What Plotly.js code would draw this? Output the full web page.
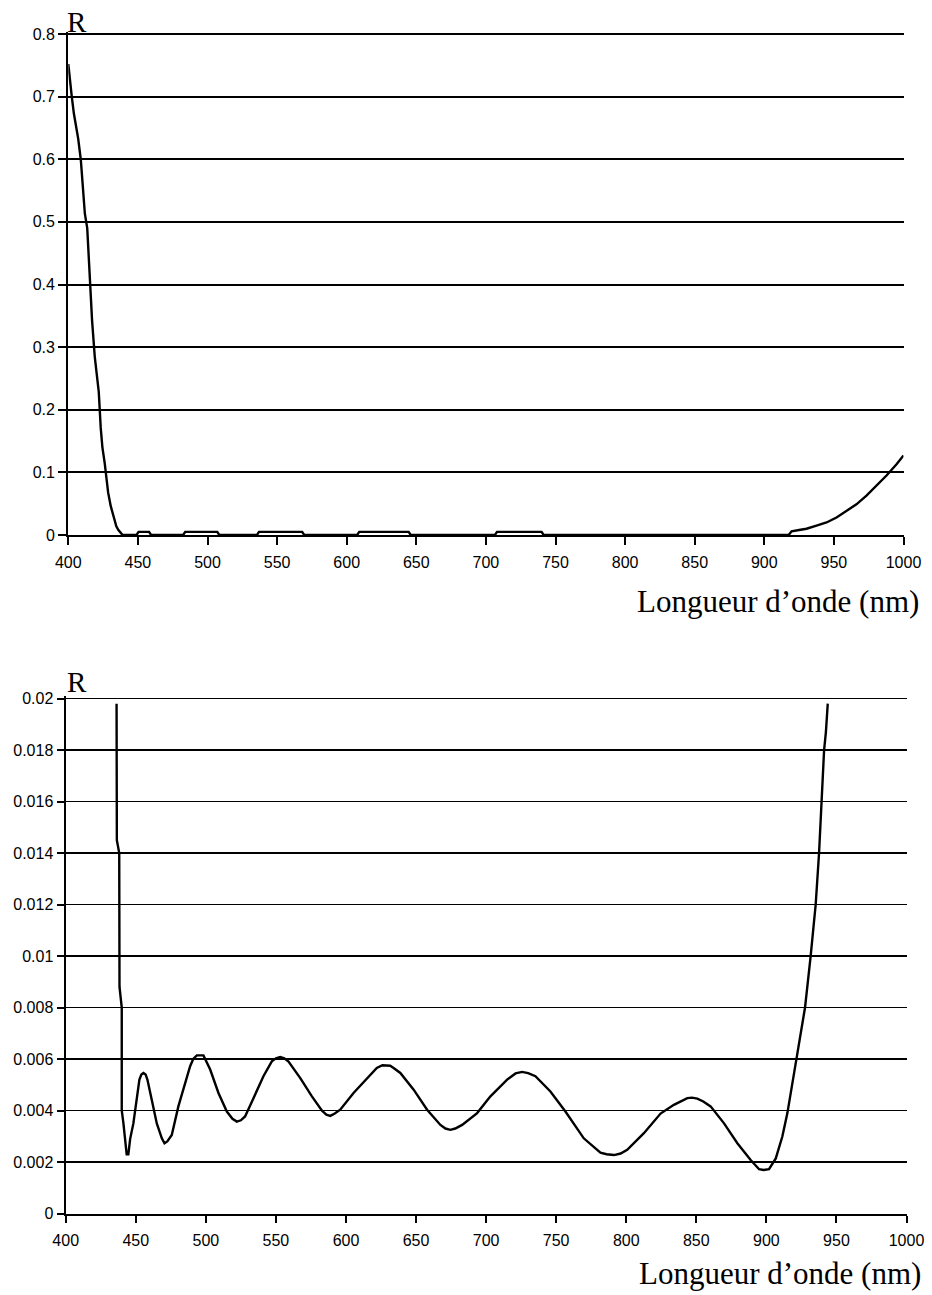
<!DOCTYPE html>
<html>
<head>
<meta charset="utf-8">
<script src="https://cdn.plot.ly/plotly-3.0.1.min.js"></script>
<style>html,body{margin:0;padding:0;background:#fff;}#chart{width:932px;height:1295px;}</style>
</head>
<body>
<div id="chart"></div>
<script>
// ---- Top chart: full range 400–1000 nm, R 0–0.8 ----
var topWavelength = [400, 400.5, 401.7, 402.5, 404, 405, 407.1, 409, 410.2, 411.9, 413.6, 414.3, 416, 417.1, 419, 420.5, 421.9, 423.3, 424.5, 426.2, 427.5, 428.6, 430.5, 432.9, 434.5, 436, 438, 439,
  449, 450.5, 458, 459.5,
  482.5, 484, 507, 508.5,
  535.5, 537, 568, 569.5,
  607.5, 609, 644.5, 646,
  706.5, 708, 740, 741.5,
  917.5, 919.6, 925, 930.3, 937.5, 944.7, 951.9, 959, 966.2, 973.4, 980.6, 987.8, 995, 1000];
var topR = [0.752, 0.74, 0.724, 0.70, 0.673, 0.66, 0.633, 0.599, 0.559, 0.513, 0.49, 0.456, 0.399, 0.342, 0.285, 0.25, 0.228, 0.171, 0.14, 0.114, 0.09, 0.068, 0.046, 0.029, 0.014, 0.008, 0.003, 0,
  0, 0.005, 0.005, 0,
  0, 0.005, 0.005, 0,
  0, 0.005, 0.005, 0,
  0, 0.005, 0.005, 0,
  0, 0.005, 0.005, 0,
  0, 0.006, 0.008, 0.01, 0.015, 0.02, 0.028, 0.039, 0.049, 0.063, 0.079, 0.095, 0.113, 0.127];

// ---- Bottom chart: zoom on R 0–0.02 ----
var botWavelength = [436.3, 436.3, 436.5, 438.2, 438.4, 440, 440, 441.2, 443, 443.5, 444.7, 446, 448.3, 450.7, 452.6, 454, 455.5, 457, 458.3, 461.4, 465, 468.6, 470.5, 472.5, 475.7, 480.4, 485.2, 488.8, 491, 493.6, 498.3, 500.5, 503.1, 509, 515, 519, 522.1, 525, 528, 534, 541.1, 547.1, 550, 553.1, 556, 559, 567.4, 575.7, 582.9, 586, 588.8, 592, 595.9, 605.4, 615, 622, 626, 631.6, 634, 638.8, 648.3, 657.9, 667.4, 671, 674.5, 678, 682.9, 693.6, 703.1, 715, 721, 725.7, 730, 735.2, 745.9, 756.6, 769.7, 781.6, 786, 791.2, 796, 800.7, 812.6, 824.5, 834, 840, 843.6, 847, 850.7, 855, 860.2, 869.8, 879.3, 888.8, 894.8, 898, 901.9, 906.7, 911.4, 915, 917.8, 919.7, 922.5, 925, 927.6, 931.6, 935.2, 937.6, 939.5, 941.2, 942.5, 943.8];
var botR = [0.0198, 0.0154, 0.0145, 0.014, 0.0088, 0.008, 0.004, 0.0035, 0.0025, 0.0023, 0.0023, 0.0029, 0.0035, 0.00455, 0.0052, 0.0054, 0.00546, 0.0054, 0.0052, 0.00442, 0.0035, 0.00292, 0.00273, 0.0028, 0.00305, 0.00416, 0.00507, 0.00572, 0.006, 0.00614, 0.00614, 0.0059, 0.00559, 0.00468, 0.00396, 0.00368, 0.00357, 0.00362, 0.00377, 0.00448, 0.00533, 0.00591, 0.00603, 0.00608, 0.00603, 0.0059, 0.00526, 0.00455, 0.00399, 0.00384, 0.00379, 0.00388, 0.00403, 0.00468, 0.00526, 0.00565, 0.00576, 0.00574, 0.00565, 0.00546, 0.00481, 0.00403, 0.00344, 0.0033, 0.00325, 0.0033, 0.00344, 0.0039, 0.00455, 0.0052, 0.00544, 0.0055, 0.00545, 0.00533, 0.00474, 0.00396, 0.00292, 0.00236, 0.0023, 0.00227, 0.00233, 0.00247, 0.00312, 0.00388, 0.00422, 0.0044, 0.00448, 0.0045, 0.00446, 0.00435, 0.00416, 0.0035, 0.00273, 0.00208, 0.00172, 0.00169, 0.00172, 0.00214, 0.00299, 0.0039, 0.00481, 0.0054, 0.0062, 0.007, 0.008, 0.01, 0.012, 0.014, 0.016, 0.018, 0.0187, 0.0198];

var xTitle = "Longueur d\u2019onde (nm)";
var yTitle = "R";

var H = 1295, W = 932;
function px(x){ return x / W; }
function py(y){ return (H - y) / H; }

var tickFont = {family: "Liberation Sans, Arial, sans-serif", size: 16, color: "#000"};
var rFont = {family: "Liberation Serif, Times New Roman, serif", size: 29, color: "#000"};
var xtFont = {family: "Liberation Serif, Times New Roman, serif", size: 31, color: "#000"};

var traces = [
  {x: topWavelength, y: topR, type: "scatter", mode: "lines", xaxis: "x", yaxis: "y",
   line: {color: "#000", width: 2.4}, hoverinfo: "skip"},
  {x: botWavelength, y: botR, type: "scatter", mode: "lines", xaxis: "x2", yaxis: "y2",
   line: {color: "#000", width: 2.4}, hoverinfo: "skip"}
];

var axisCommon = {
  showline: true, linecolor: "#000", linewidth: 2.2,
  ticks: "outside", tickcolor: "#000", tickwidth: 2, ticklen: 8,
  tickfont: tickFont, zeroline: false, fixedrange: true
};

var layout = {
  width: W, height: H,
  margin: {l: 0, r: 0, t: 0, b: 0},
  paper_bgcolor: "#fff", plot_bgcolor: "#fff",
  showlegend: false,
  xaxis: Object.assign({}, axisCommon, {
    domain: [px(68.3), px(903.5)], range: [400, 1000], dtick: 50, tick0: 400,
    showgrid: false, anchor: "y", ticklabelstandoff: 4
  }),
  yaxis: Object.assign({}, axisCommon, {
    domain: [py(535), py(31.8)], range: [0, 0.8035], dtick: 0.1, tick0: 0,
    showgrid: true, gridcolor: "#000", gridwidth: 2, anchor: "x"
  }),
  xaxis2: Object.assign({}, axisCommon, {
    domain: [px(65.7), px(906.5)], range: [400, 1000], dtick: 50, tick0: 400,
    showgrid: false, anchor: "y2", ticklen: 7, ticklabelstandoff: 4
  }),
  yaxis2: Object.assign({}, axisCommon, {
    domain: [py(1213.5), py(696.2)], range: [0, 0.02009], dtick: 0.002, tick0: 0,
    showgrid: true, gridcolor: "#000", gridwidth: 1.6, anchor: "x2", ticklen: 7
  }),
  annotations: [
    {text: yTitle, xref: "paper", yref: "paper", x: px(76.5), y: py(22), xanchor: "center", yanchor: "middle", showarrow: false, font: rFont},
    {text: xTitle, xref: "paper", yref: "paper", x: px(921), y: py(601), xanchor: "right", yanchor: "middle", showarrow: false, font: xtFont},
    {text: yTitle, xref: "paper", yref: "paper", x: px(77), y: py(682), xanchor: "center", yanchor: "middle", showarrow: false, font: rFont},
    {text: xTitle, xref: "paper", yref: "paper", x: px(923), y: py(1273), xanchor: "right", yanchor: "middle", showarrow: false, font: xtFont}
  ]
};

Plotly.newPlot("chart", traces, layout, {staticPlot: true, displayModeBar: false});
</script>
</body>
</html>
